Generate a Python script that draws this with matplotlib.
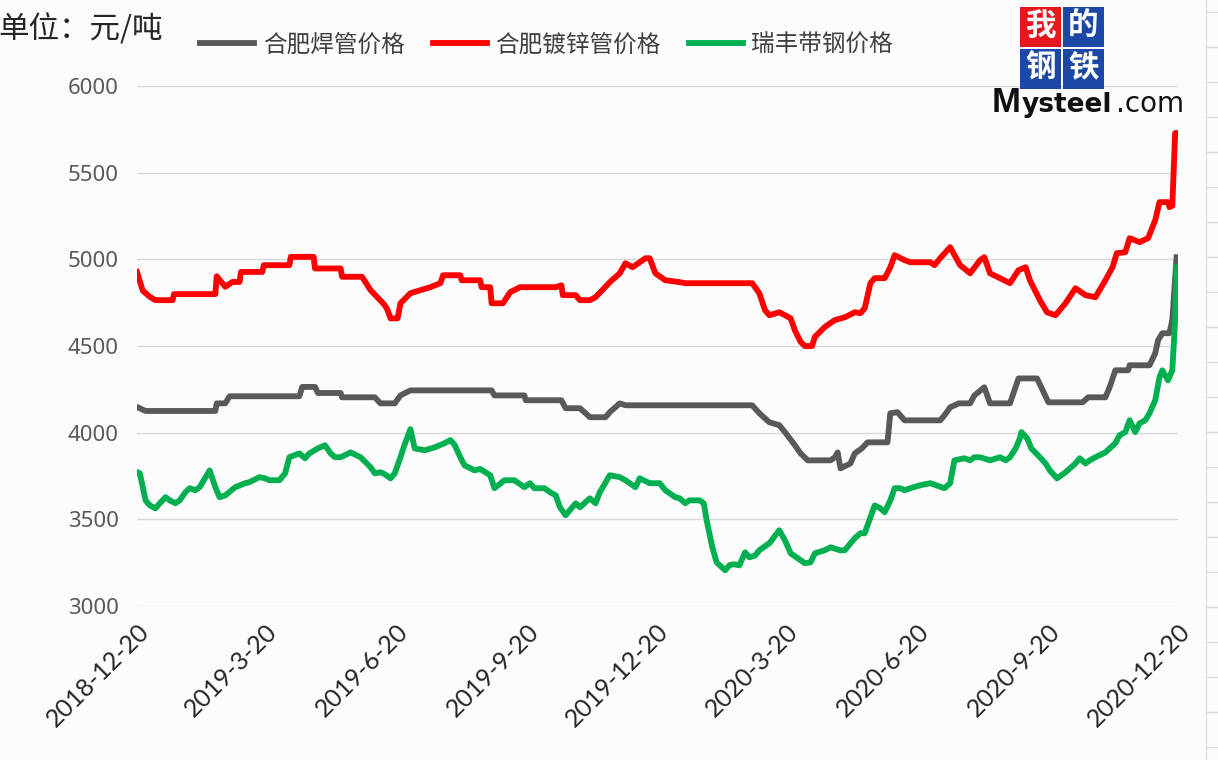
import pandas as pd
import matplotlib
matplotlib.use('Agg')
import matplotlib.pyplot as plt
from matplotlib.lines import Line2D
from matplotlib.patches import Rectangle

# days counted from 2018-12-20, values in 元/吨
start_date = '2018-12-20'

gray_day = [0, 6, 55, 56, 62, 65, 114, 116, 125, 127, 143, 144, 167, 171, 181, 185, 192, 249, 251,
            272, 273, 298, 301, 311, 315, 318, 329, 332, 339, 343, 432, 437, 444, 451, 455, 462,
            466, 471, 487, 490, 492, 494, 501, 504, 509, 513, 527, 529, 534, 539, 564, 567, 571,
            577, 585, 588, 595, 599, 613, 619, 632, 635, 640, 664, 668, 680, 683, 687, 696, 697,
            711, 715, 717, 720, 725, 727, 730]
gray_val = [4148, 4125, 4125, 4169, 4169, 4210, 4210, 4264, 4264, 4229, 4229, 4204, 4204, 4169,
            4169, 4215, 4244, 4244, 4215, 4215, 4187, 4187, 4141, 4141, 4112, 4089, 4089, 4118,
            4169, 4158, 4158, 4112, 4060, 4043, 4003, 3927, 3880, 3840, 3840, 3857, 3886, 3794,
            3822, 3880, 3909, 3944, 3944, 4112, 4118, 4071, 4071, 4100, 4146, 4169, 4169, 4215,
            4262, 4169, 4169, 4313, 4313, 4262, 4175, 4175, 4204, 4204, 4262, 4360, 4360, 4389,
            4389, 4458, 4533, 4574, 4574, 4650, 5013]

red_day = [0, 4, 9, 13, 25, 26, 55, 56, 62, 67, 72, 73, 88, 89, 107, 108, 124, 125, 143, 144,
           158, 164, 174, 176, 178, 183, 185, 192, 206, 213, 215, 227, 228, 241, 242, 248, 249,
           257, 262, 269, 294, 298, 299, 308, 311, 318, 322, 332, 339, 343, 348, 353, 357, 360,
           364, 371, 381, 385, 432, 437, 441, 444, 451, 455, 459, 462, 466, 469, 474, 476, 483,
           490, 497, 504, 508, 511, 515, 518, 525, 529, 532, 539, 543, 557, 560, 564, 571, 578,
           585, 592, 595, 599, 606, 613, 619, 624, 627, 634, 639, 645, 652, 659, 666, 673, 680,
           685, 688, 694, 697, 704, 710, 715, 718, 724, 725, 727, 729, 730]
red_val = [4928, 4820, 4784, 4765, 4765, 4800, 4800, 4903, 4842, 4870, 4870, 4928, 4928, 4967,
           4967, 5015, 5015, 4948, 4948, 4900, 4900, 4823, 4736, 4707, 4660, 4660, 4747, 4805,
           4840, 4863, 4909, 4909, 4880, 4880, 4840, 4840, 4747, 4747, 4811, 4840, 4840, 4851,
           4794, 4794, 4765, 4765, 4782, 4869, 4920, 4978, 4955, 4984, 5007, 5007, 4920, 4880,
           4869, 4863, 4863, 4805, 4707, 4678, 4695, 4678, 4660, 4590, 4524, 4500, 4500, 4553,
           4610, 4650, 4666, 4695, 4690, 4718, 4863, 4892, 4892, 4955, 5025, 4996, 4984, 4984,
           4967, 5007, 5071, 4967, 4920, 4996, 5013, 4920, 4892, 4863, 4938, 4955, 4880, 4765,
           4695, 4678, 4747, 4834, 4794, 4782, 4880, 4955, 5036, 5042, 5123, 5100, 5123, 5227,
           5331, 5331, 5302, 5310, 5730, 5730]

green_day = [0, 2, 6, 9, 13, 16, 20, 23, 27, 30, 34, 37, 41, 44, 51, 55, 58, 62, 69, 76, 79, 86,
             90, 93, 100, 104, 107, 114, 118, 121, 127, 132, 136, 139, 143, 150, 157, 164, 167,
             171, 174, 178, 181, 185, 188, 192, 195, 202, 209, 216, 220, 223, 227, 230, 237, 241,
             248, 251, 258, 265, 272, 276, 279, 286, 290, 294, 297, 301, 308, 311, 318, 322, 325,
             332, 339, 343, 350, 353, 360, 367, 371, 378, 381, 385, 388, 395, 398, 400, 404, 407,
             413, 416, 419, 423, 427, 430, 434, 437, 444, 451, 455, 459, 466, 469, 473, 476, 483,
             487, 494, 497, 504, 508, 511, 515, 518, 522, 525, 529, 532, 536, 539, 543, 550, 557,
             567, 571, 574, 581, 585, 588, 592, 599, 606, 610, 613, 617, 620, 621, 625, 628, 634,
             638, 641, 646, 652, 659, 662, 666, 669, 673, 680, 687, 690, 694, 697, 701, 704, 708,
             711, 715, 718, 720, 724, 727, 729, 730]
green_val = [3772, 3765, 3609, 3580, 3563, 3592, 3627, 3609, 3592, 3609, 3656, 3679, 3667, 3685,
             3782, 3685, 3627, 3638, 3685, 3708, 3714, 3743, 3736, 3725, 3725, 3765, 3858, 3880,
             3852, 3880, 3909, 3927, 3880, 3858, 3858, 3886, 3858, 3800, 3765, 3771, 3760, 3736,
             3765, 3858, 3933, 4020, 3909, 3898, 3915, 3939, 3957, 3930, 3858, 3811, 3782, 3790,
             3754, 3679, 3725, 3725, 3685, 3708, 3679, 3679, 3656, 3638, 3569, 3523, 3592, 3569,
             3621, 3592, 3656, 3754, 3743, 3725, 3685, 3736, 3708, 3708, 3667, 3627, 3621, 3592,
             3609, 3609, 3592, 3494, 3338, 3251, 3205, 3234, 3240, 3234, 3309, 3280, 3290, 3321,
             3361, 3436, 3378, 3303, 3263, 3246, 3251, 3303, 3321, 3338, 3320, 3321, 3390, 3419,
             3419, 3511, 3580, 3563, 3540, 3609, 3679, 3679, 3667, 3679, 3696, 3708, 3679, 3708,
             3840, 3852, 3840, 3858, 3858, 3840, 3858, 3840, 3858, 3909, 3968, 4003, 3968, 3909,
             3858, 3822, 3782, 3736, 3771, 3822, 3852, 3822, 3840, 3858, 3886, 3939, 3985, 4003,
             4071, 4003, 4054, 4071, 4112, 4187, 4320, 4360, 4302, 4360, 4650, 4955]

series_names = ['合肥焊管价格', '合肥镀锌管价格', '瑞丰带钢价格']
series_colors = ['#595959', '#ff0000', '#00b050']

tick_dates = ['2018-12-20', '2019-03-20', '2019-06-20', '2019-09-20', '2019-12-20',
              '2020-03-20', '2020-06-20', '2020-09-20', '2020-12-20']
tick_labels = ['2018-12-20', '2019-3-20', '2019-6-20', '2019-9-20', '2019-12-20',
               '2020-3-20', '2020-6-20', '2020-9-20', '2020-12-20']
y_ticks = [3000, 3500, 4000, 4500, 5000, 5500, 6000]

W, H = 1218, 760
CJK = ['Noto Sans CJK SC', 'DejaVu Sans']


#pixel position -> figure fraction
def px(x, y):
    return x / W, 1 - y / H


def to_dates(days):
    return pd.Timestamp(start_date) + pd.to_timedelta(days, unit='D')


def draw_logo(fig):
    boxes = [(1020, 7, '#e5161d', '我'), (1063, 7, '#1b48a6', '的'),
             (1020, 49, '#1b48a6', '钢'), (1063, 49, '#1b48a6', '铁')]
    for (x, y, c, ch) in boxes:
        x0, y1 = px(x, y + 40)
        fig.patches.append(Rectangle((x0, y1), 41 / W, 40 / H, transform=fig.transFigure,
                                     facecolor=c, edgecolor='none', zorder=1))
        cx, cy = px(x + 20.5, y + 19)
        fig.text(cx, cy, ch, color='white', fontsize=22, fontweight='bold', family=CJK,
                 ha='center', va='center', zorder=2)
    fig.text(*px(992, 112), 'M', fontsize=25, fontweight='bold', family='Liberation Sans',
             color='#111111', va='baseline', zorder=3)
    fig.text(*px(1022, 112), 'ysteel', fontsize=19, fontweight='bold', family='DejaVu Sans',
             color='#111111', va='baseline', zorder=3)
    fig.text(*px(1116, 112), '.com', fontsize=20, family='DejaVu Sans',
             color='#111111', va='baseline', zorder=3)


def main():
    fig = plt.figure(figsize=(W / 100, H / 100), dpi=100, facecolor='#fcfcfd')
    left, bottom = px(137, 605.8)
    ax = fig.add_axes([left, bottom, 1041 / W, 519.5 / H])
    ax.set_facecolor('none')

    data = [(gray_day, gray_val), (red_day, red_val), (green_day, green_val)]
    for (d, v), c in zip(data, series_colors):
        ax.plot(to_dates(d), v, color=c, lw=4.2, solid_joinstyle='round')

    ax.set_ylim(3000, 6000)
    ax.set_yticks(y_ticks)
    ax.set_yticklabels([str(t) for t in y_ticks], fontsize=16, family='Noto Sans', color='#595959')
    ax.grid(axis='y', color='#d9d9d9', lw=1)
    ax.set_axisbelow(True)
    for s in ax.spines.values():
        s.set_visible(False)
    ax.tick_params(length=0)
    ax.tick_params(axis='y', pad=13)

    ax.set_xlim(to_dates([0])[0], pd.Timestamp('2020-12-20'))
    ax.set_xticks(pd.to_datetime(tick_dates))
    ax.set_xticklabels(tick_labels, rotation=45, ha='right', va='top', rotation_mode='anchor',
                       fontsize=18, family='Lato', color='#262626')
    ax.tick_params(axis='x', pad=10)

    # legend
    handles = [Line2D([], [], color=c, lw=4.2) for c in series_colors]
    fig.legend(handles, series_names, loc='center left', bbox_to_anchor=px(200, 45), ncol=3,
               frameon=False, handlelength=2.3, handletextpad=0.35, columnspacing=1.2,
               borderpad=0, borderaxespad=0, prop={'family': CJK, 'size': 17},
               labelcolor='#404040')

    fig.text(*px(-2, 30), '单位：元/吨', fontsize=22, family=CJK, color='#262626',
             va='center', ha='left')

    draw_logo(fig)

    # spreadsheet edge on the right
    fig.add_artist(Line2D([1206 / W] * 2, [0, 1], transform=fig.transFigure, color='#dcdcdc', lw=1))
    for y in range(12, H, 35):
        fig.add_artist(Line2D([1207 / W, 1], [1 - y / H] * 2, transform=fig.transFigure,
                              color='#dcdcdc', lw=1))

    fig.savefig('out.png', dpi=100, facecolor=fig.get_facecolor())


if __name__ == "__main__":
    main()
